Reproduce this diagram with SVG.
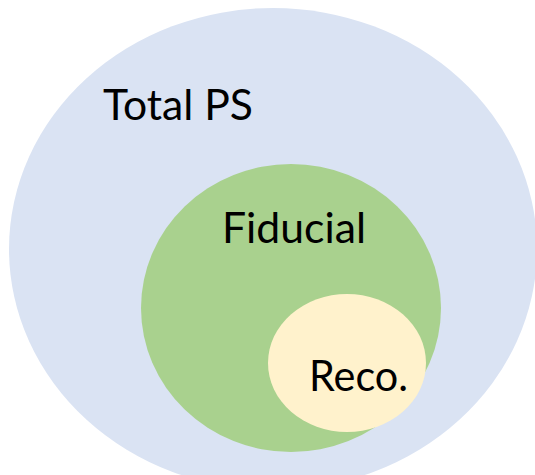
<svg xmlns="http://www.w3.org/2000/svg" width="535" height="475" viewBox="0 0 535 475">
<style>
.lbl{font-family:Lato,"Open Sans","Liberation Sans",sans-serif;fill:#000;font-size:42px}
</style>
<rect width="535" height="475" fill="#fff"/>
<g id="total">
<ellipse cx="273" cy="249" rx="264" ry="241" fill="#DAE3F3"/>
<text class="lbl" x="103" y="120" textLength="150" lengthAdjust="spacingAndGlyphs">Total PS</text>
</g>
<g id="fiducial">
<ellipse cx="291" cy="308" rx="150" ry="144" fill="#A9D18E"/>
<text class="lbl" x="222" y="243" textLength="144" lengthAdjust="spacingAndGlyphs">Fiducial</text>
</g>
<g id="reco">
<ellipse cx="347" cy="363" rx="79" ry="69" fill="#FFF2CC"/>
<text class="lbl" x="309" y="391" textLength="99" lengthAdjust="spacingAndGlyphs">Reco.</text>
</g>
<g id="connectors"/>
</svg>
